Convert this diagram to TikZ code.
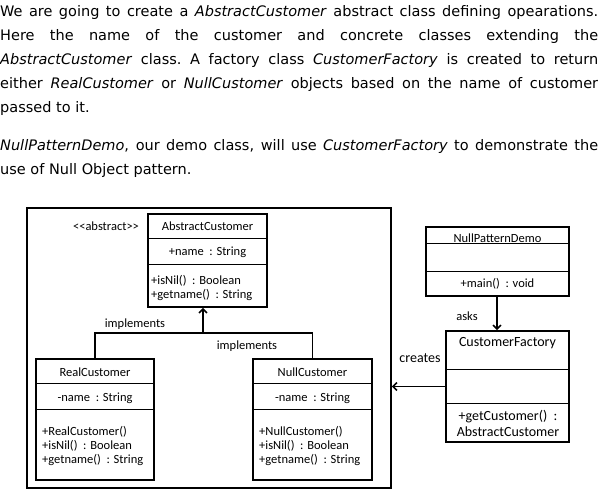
\documentclass[tikz,border=0pt]{standalone}
\usepackage{fontspec}
\setmainfont{DejaVu Sans}
\newfontfamily\diagfont{Carlito}
\usetikzlibrary{arrows.meta,calc}
\tikzset{
  para/.style={anchor=base west,inner sep=0pt,font=\fontsize{14.5}{17}\selectfont},
  cls/.style={draw,line width=1.6pt,inner sep=0pt},
  frm/.style={draw,line width=1.6pt,inner sep=0pt},
  lbl/.style={inner sep=0pt,font=\diagfont\fontsize{12.5}{14}\selectfont},
  lblbig/.style={inner sep=0pt,font=\diagfont\fontsize{14}{16}\selectfont},
  lblleft/.style={lbl,anchor=west,align=left},
  divider/.style={line width=1.4pt},
  conn/.style={line width=1.8pt},
  tip/.style={-{Straight Barb[length=4pt,width=8pt,line width=1.6pt]}}
}
\begin{document}
\begin{tikzpicture}[x=1pt,y=-1pt]
\useasboundingbox (0,0) rectangle (602,498);
% paragraph text
\node[para] (l1) at (0,16) {\makebox[598pt][s]{We are going to create a \textit{AbstractCustomer} abstract class defining opearations.}};
\node[para] (l2) at (0,40) {\makebox[598pt][s]{Here the name of the customer and concrete classes extending the}};
\node[para] (l3) at (0,64) {\makebox[598pt][s]{\textit{AbstractCustomer} class.\ A factory class \textit{CustomerFactory} is created to return}};
\node[para] (l4) at (0,88) {\makebox[598pt][s]{either \textit{RealCustomer} or \textit{NullCustomer} objects based on the name of customer}};
\node[para] (l5) at (0,112) {passed to it.};
\node[para] (l6) at (0,150) {\makebox[598pt][s]{\textit{NullPatternDemo}, our demo class, will use \textit{CustomerFactory} to demonstrate the}};
\node[para] (l7) at (0,174) {use of Null Object pattern.};

% outer frame
\node[frm,minimum width=364pt,minimum height=280pt] (frame) at (209,348) {};

% AbstractCustomer
\node[cls,minimum width=119pt,minimum height=93pt] (ac) at (207.5,260.5) {};
\draw[divider] ($(ac.north west)+(0,25)$) -- ($(ac.north east)+(0,25)$);
\draw[divider] ($(ac.north west)+(0,51)$) -- ($(ac.north east)+(0,51)$);
\node[lbl] (acstereo) at (106,226) {<{}<abstract>{}>};
\node[lbl] (actitle) at (207.5,226.5) {AbstractCustomer};
\node[lbl] (acattr) at (207.5,252) {+name~ : String};
\node[lblleft] (acops) at (151,287.5) {+isNil()~ : Boolean\\+getname()~ : String};

% RealCustomer
\node[cls,minimum width=118pt,minimum height=121pt] (rc) at (95,419.5) {};
\draw[divider] ($(rc.north west)+(0,25)$) -- ($(rc.north east)+(0,25)$);
\draw[divider] ($(rc.north west)+(0,51)$) -- ($(rc.north east)+(0,51)$);
\node[lbl] (rctitle) at (95,372) {RealCustomer};
\node[lbl] (rcattr) at (95,398) {-name~ : String};
\node[lblleft] (rcops) at (42,445.5) {+RealCustomer()\\+isNil()~ : Boolean\\+getname()~ : String};

% NullCustomer
\node[cls,minimum width=119pt,minimum height=121pt] (nc) at (312.5,419.5) {};
\draw[divider] ($(nc.north west)+(0,25)$) -- ($(nc.north east)+(0,25)$);
\draw[divider] ($(nc.north west)+(0,51)$) -- ($(nc.north east)+(0,51)$);
\node[lbl] (nctitle) at (312.5,372) {NullCustomer};
\node[lbl] (ncattr) at (312.5,398) {-name~ : String};
\node[lblleft] (ncops) at (259,445.5) {+NullCustomer()\\+isNil()~ : Boolean\\+getname()~ : String};

% implements connectors
\coordinate (bar) at (203,333);
\draw[conn] (rc.north) |- (bar) -| (nc.north);
\draw[conn,tip] (bar) -- (bar |- ac.south);
\node[lbl] (impl1) at (135,324) {implements};
\node[lbl] (impl2) at (247,346) {implements};

% NullPatternDemo
\node[cls,minimum width=143pt,minimum height=69pt] (npd) at (497.5,261.5) {};
\draw[divider] ($(npd.north west)+(0,17)$) -- ($(npd.north east)+(0,17)$);
\draw[divider] ($(npd.north west)+(0,45)$) -- ($(npd.north east)+(0,45)$);
\node[lbl] (npdtitle) at (497.5,238.5) {NullPatternDemo};
\node[lbl] (npdops) at (497.5,284) {+main()~ : void};

% CustomerFactory
\node[cls,minimum width=123pt,minimum height=111pt] (cf) at (507.5,386.5) {};
\draw[divider] ($(cf.north west)+(0,39)$) -- ($(cf.north east)+(0,39)$);
\draw[divider] ($(cf.north west)+(0,73)$) -- ($(cf.north east)+(0,73)$);
\node[lblbig] (cftitle) at (507.5,343) {CustomerFactory};
\node[lblbig,align=center] (cfops) at (508,423) {+getCustomer()~ :\\AbstractCustomer};

% asks / creates
\draw[conn,tip] (npd.south -| 497,0) -- (497,0 |- cf.north);
\node[lbl] (asks) at (467,316) {asks};
\draw[conn,tip] (cf.west) -- (cf.west -| frame.east);
\node[lblbig] (creates) at (420,358) {creates};
\end{tikzpicture}
\end{document}
